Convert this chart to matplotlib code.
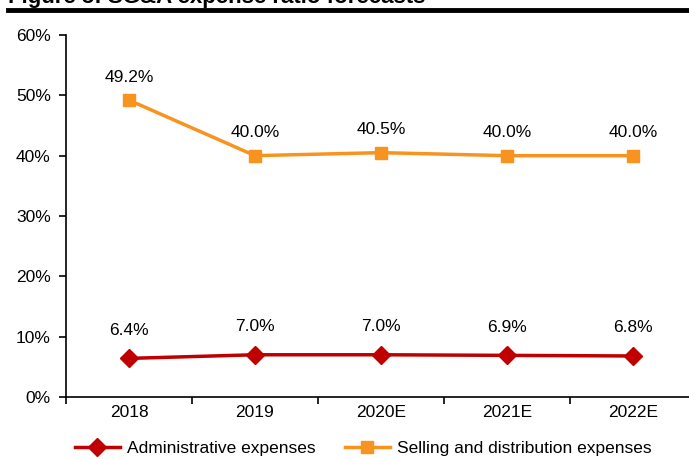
import matplotlib.pyplot as plt
from matplotlib.ticker import FixedLocator, PercentFormatter
from matplotlib.lines import Line2D

plt.rcParams['font.family'] = ['Liberation Sans', 'DejaVu Sans']

years = ['2018', '2019', '2020E', '2021E', '2022E']
admin = [6.4, 7.0, 7.0, 6.9, 6.8]
selling = [49.2, 40.0, 40.5, 40.0, 40.0]
red = '#C00000'
orange = '#F7931E'
fs = 12.5

fig = plt.figure(figsize=(6.89, 4.59), dpi=100)
ax = fig.add_axes([66 / 689, 1 - 397 / 459, 630 / 689, 362 / 459])

x = range(len(years))
ax.plot(x, admin, color=red, lw=2.5, marker='D', ms=9, clip_on=False)
ax.plot(x, selling, color=orange, lw=2.5, marker='s', ms=9, clip_on=False)

for i in x:
    ax.annotate(f'{admin[i]:.1f}%', (i, admin[i]), xytext=(0, 15), textcoords='offset points',
                ha='center', va='bottom', fontsize=fs)
    ax.annotate(f'{selling[i]:.1f}%', (i, selling[i]), xytext=(0, 11), textcoords='offset points',
                ha='center', va='bottom', fontsize=fs)

ax.set_xlim(-0.5, 4.5)
ax.set_ylim(0, 60)
ax.set_yticks(range(0, 61, 10))
ax.yaxis.set_major_formatter(PercentFormatter(decimals=0))
ax.set_xticks(list(x))
ax.set_xticklabels(years)
ax.xaxis.set_minor_locator(FixedLocator([-0.5, 0.5, 1.5, 2.5, 3.5, 4.5]))
ax.tick_params(axis='x', which='major', length=0, pad=6, labelsize=fs)
ax.tick_params(axis='x', which='minor', length=5, width=1.2)
ax.tick_params(axis='y', length=5, width=1.2, labelsize=fs, pad=6)
for s in ['top', 'right']:
    ax.spines[s].set_visible(False)
for s in ['left', 'bottom']:
    ax.spines[s].set_linewidth(1.2)

handles = [Line2D([], [], color=red, lw=2.5, marker='D', ms=9),
           Line2D([], [], color=orange, lw=2.5, marker='s', ms=9)]
fig.legend(handles, ['Administrative expenses', 'Selling and distribution expenses'],
           loc='center', bbox_to_anchor=(0.527, 1 - 448 / 459), ncol=2, frameon=False,
           fontsize=fs, handlelength=2.6, columnspacing=1.7, handletextpad=0.4)

fig.text(8 / 689, 1 - 3 / 459, 'Figure 5: SG&A expense ratio forecasts', fontsize=16,
         fontweight='bold', va='baseline', ha='left')
fig.add_artist(Line2D([8 / 689, 1], [1 - 10 / 459, 1 - 10 / 459], color='black', lw=3.5))

fig.savefig('out.png', dpi=100)
